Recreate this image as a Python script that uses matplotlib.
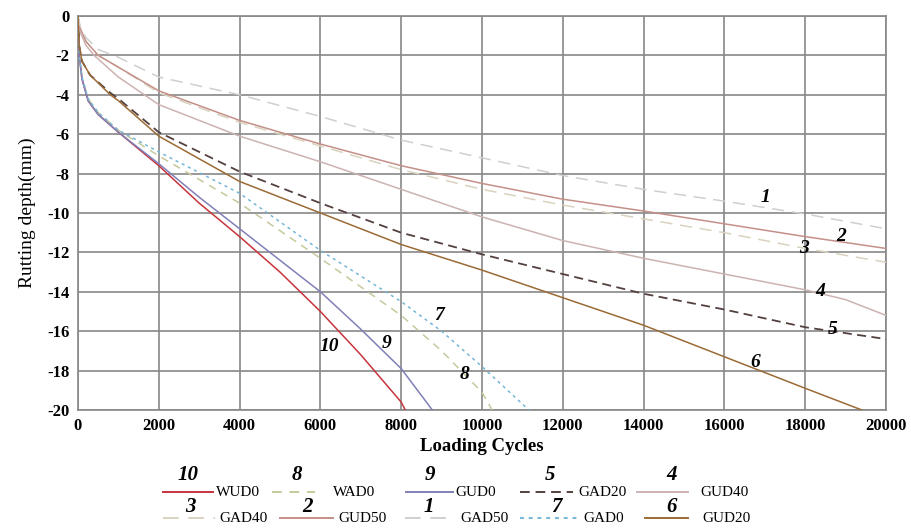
"""Rutting depth vs loading cycles for ten mixes."""

import matplotlib
matplotlib.use("Agg")
import matplotlib.pyplot as plt
from matplotlib.lines import Line2D

plt.rcParams["font.family"] = ["Liberation Serif", "DejaVu Serif"]
plt.rcParams["axes.unicode_minus"] = False

# --- data (cycles, rut depth in mm) ---
wud0_x = [0, 30, 100, 250, 500, 1000, 2000, 3000, 4000, 5000, 6000, 7000, 8000, 8100]
wud0_y = [0, -2.0, -3.2, -4.3, -5.0, -5.9, -7.6, -9.5, -11.2, -13.0, -15.0, -17.2, -19.6, -20.0]

gud0_x = [0, 30, 100, 250, 500, 1000, 2000, 3000, 4000, 5000, 6000, 7000, 8000, 8770]
gud0_y = [0, -2.0, -3.2, -4.3, -5.0, -5.9, -7.5, -9.2, -10.8, -12.4, -14.0, -15.9, -17.9, -20.0]

wad0_x = [0, 30, 100, 250, 500, 1000, 2000, 4000, 6000, 8000, 9000, 10000, 10250]
wad0_y = [0, -2.0, -3.1, -4.2, -4.9, -5.8, -7.1, -9.5, -12.3, -15.2, -17.0, -19.1, -20.0]

gad0_x = [0, 30, 100, 250, 500, 1000, 2000, 4000, 6000, 8000, 9000, 10000, 11160]
gad0_y = [0, -2.0, -3.1, -4.2, -4.9, -5.8, -6.9, -9.0, -11.9, -14.5, -16.0, -17.8, -20.0]

gad20_x = [0, 30, 100, 300, 800, 1000, 2000, 4000, 6000, 8000, 10000, 12000, 14000, 16000, 18000, 20000]
gad20_y = [0, -1.5, -2.3, -3.0, -3.9, -4.2, -5.9, -7.9, -9.5, -11.0, -12.1, -13.1, -14.1, -14.9, -15.8, -16.4]

gud20_x = [0, 30, 100, 300, 800, 1000, 2000, 4000, 6000, 8000, 10000, 12000, 14000, 16000, 18000, 19400]
gud20_y = [0, -1.5, -2.3, -3.0, -4.0, -4.3, -6.1, -8.4, -10.0, -11.6, -12.9, -14.3, -15.7, -17.3, -18.9, -20.0]

gud40_x = [0, 50, 200, 400, 1000, 2000, 4000, 6000, 8000, 10000, 12000, 14000, 16000, 18000, 19000, 20000]
gud40_y = [0, -0.8, -1.5, -2.0, -3.1, -4.5, -6.1, -7.4, -8.8, -10.2, -11.4, -12.3, -13.1, -13.9, -14.4, -15.2]

late_x = [0, 50, 200, 500, 1000, 2000, 4000, 6000, 8000, 10000, 12000, 14000, 16000, 18000, 20000]
gud50_y = [0, -0.6, -1.3, -2.0, -2.6, -3.8, -5.3, -6.5, -7.6, -8.5, -9.3, -9.9, -10.55, -11.2, -11.8]
gad40_y = [0, -0.6, -1.3, -2.0, -2.6, -3.9, -5.4, -6.6, -7.8, -8.8, -9.6, -10.3, -11.0, -11.8, -12.5]
gad50_y = [0, -0.5, -1.1, -1.7, -2.1, -3.1, -4.0, -5.1, -6.3, -7.2, -8.1, -8.8, -9.4, -10.05, -10.8]

# curve number, legend name, x, y, colour, dash pattern (None = solid)
series = [
    ("10", "WUD0", wud0_x, wud0_y, "#c8343c", None),
    ("8", "WAD0", wad0_x, wad0_y, "#c6c99c", (5, 4)),
    ("9", "GUD0", gud0_x, gud0_y, "#8080b8", None),
    ("5", "GAD20", gad20_x, gad20_y, "#54403f", (5, 3)),
    ("4", "GUD40", gud40_x, gud40_y, "#cdb2b2", None),
    ("3", "GAD40", late_x, gad40_y, "#d9d2bf", (8, 5)),
    ("2", "GUD50", late_x, gud50_y, "#c49088", None),
    ("1", "GAD50", late_x, gad50_y, "#cfcfcf", (8, 5)),
    ("7", "GAD0", gad0_x, gad0_y, "#74b6d6", (2, 2.5)),
    ("6", "GUD20", gud20_x, gud20_y, "#9c6a34", None),
]

# label positions for the curve numbers (data coords)
curve_tags = {
    "1": (17010, -9.2), "2": (18890, -11.2), "3": (17980, -11.8),
    "4": (18370, -14.0), "5": (18670, -15.9), "6": (16760, -17.6),
    "7": (8940, -15.2), "8": (9560, -18.2), "9": (7650, -16.6),
    "10": (6220, -16.8),
}

fig = plt.figure(figsize=(9.11, 5.31), dpi=100)
ax = fig.add_axes([0.0856, 0.2279, 0.887, 0.742])

for num, name, xs, ys, color, dash in series:
    lw = 1.3 if num == "5" else 1.1
    line, = ax.plot(xs, ys, color=color, linewidth=lw, zorder=3)
    if dash:
        line.set_dashes(dash)

for num, (tx, ty) in curve_tags.items():
    ax.text(tx, ty, num, fontsize=14, fontweight="bold", fontstyle="italic",
            ha="center", va="center", zorder=4)

ax.set_xlim(0, 20000)
ax.set_ylim(-20, 0)
ax.set_xticks(range(0, 20001, 2000))
ax.set_yticks(range(-20, 1, 2))
ax.grid(True, color="#888888", linewidth=1.2)
ax.set_axisbelow(True)
for s in ax.spines.values():
    s.set_color("#888888")
    s.set_linewidth(1.2)
ax.tick_params(length=0, pad=6, labelsize=12)
for lbl in ax.get_xticklabels() + ax.get_yticklabels():
    lbl.set_fontweight("bold")

ax.set_xlabel("Loading Cycles", fontsize=13.5, fontweight="bold", labelpad=3)
ax.set_ylabel("Rutting depth(mm)", fontsize=14, labelpad=8)

# hand-built two-row legend, numbers sit above the line samples (pixel layout)
leg_line = [(163, 213), (272, 315), (406, 453), (520, 573), (637, 688),
            (163, 215), (280, 333), (405, 453), (520, 577), (645, 688)]
leg_num_x = [188, 297, 430, 550, 672, 190, 308, 429, 556, 672]
leg_text_x = [216, 333, 455, 578, 700, 219, 338, 460, 583, 702]
row_y = [492, 518]
num_y = [475, 507]
W, H = 911.0, 531.0
for i, (num, name, xs, ys, color, dash) in enumerate(series):
    r = i // 5
    x0, x1 = leg_line[i]
    y = row_y[r]
    ln = Line2D([x0 / W, x1 / W], [1 - y / H, 1 - y / H],
                transform=fig.transFigure, color=color, linewidth=1.4)
    if dash:
        ln.set_dashes(dash)
    fig.add_artist(ln)
    fig.text(leg_num_x[i] / W, 1 - num_y[r] / H, num, fontsize=15, fontweight="bold",
             fontstyle="italic", ha="center", va="center")
    fig.text(leg_text_x[i] / W, 1 - y / H, name, fontsize=11, ha="left", va="center")

fig.savefig("out.png", dpi=100)
